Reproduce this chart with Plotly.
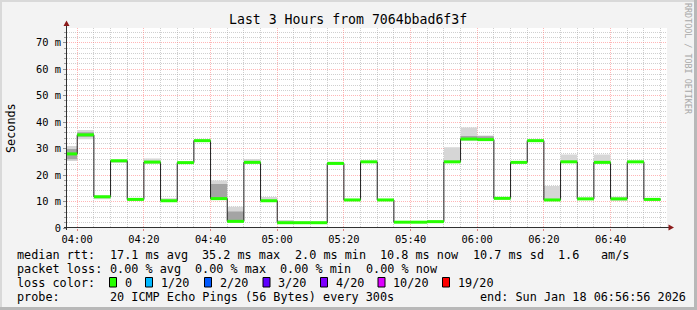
import plotly.graph_objects as go
import pandas as pd

# ---------------- data ----------------
TITLE = "Last 3 Hours from 7064bbad6f3f"
SLOT_START = "2026-01-18 03:55:00"
SLOT_FREQ = "5min"
X_START = "2026-01-18 03:56:56"
X_END = "2026-01-18 06:56:56"

# median rtt per 5-minute slot (ms), 03:55 ... 06:50
median_ms = [28.0, 35.2, 11.8, 25.4, 10.8, 24.9, 10.3, 24.7, 33.0, 11.1, 2.5, 24.8,
             10.3, 2.0, 2.0, 2.0, 24.4, 10.6, 25.0, 10.6, 2.2, 2.2, 2.4, 25.0,
             33.6, 33.4, 11.2, 24.8, 33.0, 10.6, 25.0, 11.0, 24.8, 11.0, 25.0, 10.8]
# smoke (spread of the 20 pings), outer band
smoke_lo = [25.3, 33.5, 10.9, 24.6, 10.4, 24.3, 9.9, 24.3, 32.6, 10.6, 2.0, 24.3,
            9.9, 1.7, 1.7, 1.7, 24.0, 10.3, 24.6, 10.3, 1.9, 1.9, 2.0, 24.6,
            33.0, 33.0, 10.7, 24.3, 32.7, 10.2, 24.6, 10.6, 24.4, 10.3, 24.6, 10.5]
smoke_hi = [31.0, 37.0, 12.3, 25.9, 11.3, 26.3, 11.2, 25.1, 33.4, 17.9, 8.0, 26.1,
            11.7, 3.0, 2.5, 2.4, 25.0, 11.0, 25.4, 10.9, 2.6, 2.6, 2.8, 30.5,
            38.0, 34.9, 11.6, 25.3, 33.3, 15.9, 27.8, 11.4, 27.8, 11.8, 25.3, 11.1]
# inner (denser) band
smoke_in_lo = [26.0, 34.5, 11.8, 25.4, 10.8, 24.9, 10.3, 24.7, 33.0, 11.0, 2.6, 24.8,
               10.3, 2.0, 2.0, 2.0, 24.4, 10.6, 25.0, 10.6, 2.2, 2.2, 2.4, 25.0,
               33.3, 33.2, 11.2, 24.8, 33.0, 10.6, 25.0, 11.0, 24.8, 11.0, 25.0, 10.8]
smoke_in_hi = [29.8, 36.2, 11.8, 25.4, 10.8, 24.9, 10.3, 24.7, 33.0, 16.6, 6.2, 24.8,
               10.3, 2.0, 2.0, 2.0, 24.4, 10.6, 25.0, 10.6, 2.2, 2.2, 2.4, 25.0,
               34.8, 34.7, 11.2, 24.8, 33.0, 10.6, 25.0, 11.0, 24.8, 11.0, 25.0, 10.8]

y_tick_vals = [0, 10, 20, 30, 40, 50, 60, 70]
y_tick_text = ["0", "10 m", "20 m", "30 m", "40 m", "50 m", "60 m", "70 m"]
Y_MAX = 75.56

row_rtt = [("median rtt:", 0), ("17.1 ms avg", 13), ("35.2 ms max", 26), ("2.0 ms min", 39),
           ("10.8 ms now", 51), ("10.7 ms sd", 64), ("1.6", 76), ("am/s", 82)]
row_loss = [("packet loss:", 0), ("0.00 % avg", 13), ("0.00 % max", 25),
            ("0.00 % min", 37), ("0.00 % now", 49)]
loss_labels = ["0", "1/20", "2/20", "3/20", "4/20", "10/20", "19/20"]
loss_colors = ["#26ff00", "#00b8ff", "#0059ff", "#5e00ff", "#7e00ff", "#dd00ff", "#ff0000"]
loss_box_px = [109.5, 145.5, 204.5, 263, 320.5, 378, 442.5]
probe_text = "20 ICMP Echo Pings (56 Bytes) every 300s"
end_text = "end: Sun Jan 18 06:56:56 2026"
watermark = "RRDTOOL / TOBI OETIKER"

# ---------------- geometry ----------------
W, H = 697, 310
PL, PT, PW, PH = 67, 28, 600, 200
MONO = "DejaVu Sans Mono"


def px(x):
    return (x - PL) / PW


def py(y):
    return (PT + PH - y) / PH


t = pd.date_range(SLOT_START, periods=len(median_ms) + 1, freq=SLOT_FREQ)

# grid positions (minor ones exclude the major positions)
x_major = pd.date_range("2026-01-18 04:00:00", "2026-01-18 06:56:00", freq="20min")
x_minor = [d for d in pd.date_range("2026-01-18 04:00:00", "2026-01-18 06:56:00", freq="5min")
           if d.minute % 20 != 0]
y_minor = [v for v in range(2, 76, 2) if v % 10 != 0]


def stepped(vals):
    return list(vals) + [vals[-1]]


fig = go.Figure()
# outer smoke
fig.add_trace(go.Scatter(x=t, y=stepped(smoke_lo), mode="lines", line=dict(width=0, shape="hv"),
                         hoverinfo="skip"))
fig.add_trace(go.Scatter(x=t, y=stepped(smoke_hi), mode="lines", line=dict(width=0, shape="hv"),
                         fill="tonexty", fillcolor="#d6d6d6", hoverinfo="skip"))
# inner smoke
fig.add_trace(go.Scatter(x=t, y=stepped(smoke_in_lo), mode="lines", line=dict(width=0, shape="hv"),
                         hoverinfo="skip"))
fig.add_trace(go.Scatter(x=t, y=stepped(smoke_in_hi), mode="lines", line=dict(width=0, shape="hv"),
                         fill="tonexty", fillcolor="#a4a4a4", hoverinfo="skip"))
# median dark line
fig.add_trace(go.Scatter(x=t, y=stepped(median_ms), mode="lines",
                         line=dict(width=1, shape="hv", color="#202020"), hoverinfo="skip"))
# loss-coloured median bars
gx, gy = [], []
for i, v in enumerate(median_ms):
    gx += [t[i], t[i + 1], None]
    gy += [v, v, None]
fig.add_trace(go.Scatter(x=gx, y=gy, mode="lines", line=dict(width=3, color=loss_colors[0]),
                         hoverinfo="skip"))

ann = []


def text(x, y, s, size=11.8, xanchor="left", color="black", angle=0):
    ann.append(dict(x=px(x), y=py(y), xref="paper", yref="paper", text=s, showarrow=False,
                    xanchor=xanchor, yanchor="middle", textangle=angle, borderpad=0,
                    font=dict(family=MONO, size=size, color=color)))


ADV = 7.12
LX = 16
text(347.5, 19.5, TITLE, size=13.2, xanchor="center")
text(11, 128, "Seconds", size=11.8, xanchor="center", angle=-90)
text(688, 59, watermark, size=8.4, xanchor="center", color="#a8a8a8", angle=90)
for s, i in row_rtt:
    text(LX + i * ADV, 254.5, s)
for s, i in row_loss:
    text(LX + i * ADV, 268.5, s)
text(LX, 282.5, "loss color:")
shapes = []
for bx, lab, col in zip(loss_box_px, loss_labels, loss_colors):
    shapes.append(dict(type="rect", xref="paper", yref="paper", x0=px(bx), x1=px(bx + 7),
                       y0=py(287), y1=py(277.5), fillcolor=col, line=dict(color="black", width=1)))
    text(bx + 14, 282.5, lab)
text(LX, 296.5, "probe:")
text(LX + 13 * ADV, 296.5, probe_text)
text(478.5, 296.5, end_text)

# frame
shapes += [
    dict(type="rect", xref="paper", yref="paper", x0=px(0), x1=px(W), y0=py(0), y1=py(2),
         fillcolor="#d9d9d9", line=dict(width=0), layer="above"),
    dict(type="rect", xref="paper", yref="paper", x0=px(0), x1=px(2), y0=py(0), y1=py(H),
         fillcolor="#d9d9d9", line=dict(width=0), layer="above"),
    dict(type="rect", xref="paper", yref="paper", x0=px(W - 3), x1=px(W), y0=py(0), y1=py(H),
         fillcolor="#b8b8b8", line=dict(width=0), layer="above"),
    dict(type="rect", xref="paper", yref="paper", x0=px(0), x1=px(W), y0=py(H - 3), y1=py(H),
         fillcolor="#b8b8b8", line=dict(width=0), layer="above"),
]
# axes lines and arrows
shapes += [
    dict(type="line", xref="paper", yref="paper", x0=px(66.5), x1=px(66.5), y0=py(230), y1=py(25),
         line=dict(color="#303030", width=1)),
    dict(type="line", xref="paper", yref="paper", x0=px(64), x1=px(669.5), y0=py(227.5), y1=py(227.5),
         line=dict(color="#303030", width=1)),
    dict(type="path", xref="paper", yref="paper",
         path=f"M {px(63.5)} {py(26)} L {px(66.5)} {py(20.5)} L {px(69.5)} {py(26)} Z",
         fillcolor="#8b1a1a", line=dict(width=0)),
    dict(type="path", xref="paper", yref="paper",
         path=f"M {px(668.5)} {py(224.5)} L {px(674)} {py(227.5)} L {px(668.5)} {py(230.5)} Z",
         fillcolor="#8b1a1a", line=dict(width=0)),
]

MAJOR_GRID = "rgba(255,110,110,0.5)"
MINOR_GRID = "rgba(160,160,160,0.5)"

fig.update_layout(
    width=W, height=H, autosize=False, showlegend=False,
    margin=dict(l=PL, r=W - PL - PW, t=PT, b=H - PT - PH, pad=0),
    paper_bgcolor="#f3f3f3", plot_bgcolor="#ffffff",
    annotations=ann, shapes=shapes,
    xaxis=dict(type="date", range=[X_START, X_END], tickformat="%H:%M",
               tickmode="array", tickvals=list(x_major),
               showgrid=True, gridcolor=MAJOR_GRID, griddash="1px,1px", gridwidth=1,
               ticks="outside", ticklen=2, tickcolor="#e08080",
               tickfont=dict(family=MONO, size=10.4, color="black"),
               showline=False, zeroline=False, fixedrange=True,
               minor=dict(tickmode="array", tickvals=x_minor, showgrid=True,
                          gridcolor=MINOR_GRID, griddash="1px,1px", ticks="")),
    yaxis=dict(range=[0, Y_MAX], tickmode="array", tickvals=y_tick_vals, ticktext=y_tick_text,
               showgrid=True, gridcolor=MAJOR_GRID, griddash="1px,1px", gridwidth=1,
               ticks="outside", ticklen=3, tickcolor="#909090",
               tickfont=dict(family=MONO, size=10.4, color="black"),
               showline=False, zeroline=False, fixedrange=True,
               minor=dict(tickmode="array", tickvals=y_minor, showgrid=True, gridcolor=MINOR_GRID,
                          griddash="1px,1px", ticks="outside", ticklen=2, tickcolor="#a0a0a0")),
)

fig.write_html("out.html")
